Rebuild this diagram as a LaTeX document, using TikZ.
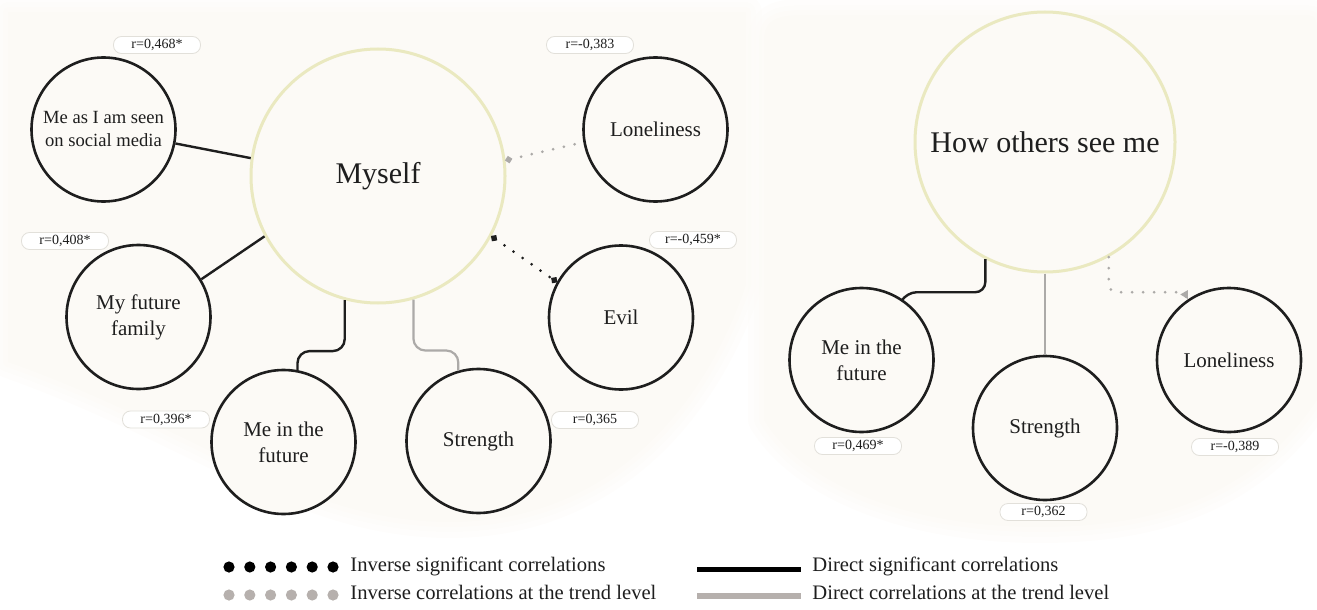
\documentclass[tikz,border=0pt]{standalone}
\usepackage{fontspec}
\setmainfont{Liberation Serif}
\usetikzlibrary{arrows.meta,calc}

\definecolor{cream}{RGB}{252,250,246}
\definecolor{paleyellow}{RGB}{234,233,192}
\definecolor{ink}{RGB}{30,30,30}
\definecolor{trendgray}{RGB}{172,170,168}
\definecolor{keygray}{RGB}{182,176,173}
\definecolor{tagline}{RGB}{226,224,218}

% soft background patches behind the two clusters
\newcommand\leftpatchpath{(8,12) -- (746,12) -- (746,285)
  .. controls (700,420) and (600,522) .. (450,522)
  .. controls (300,522) and (200,430) .. (8,362) -- cycle}
\newcommand\rightpatchpath{(764,40) .. controls (764,18) and (780,15) .. (805,15)
  -- (1300,15) .. controls (1317,15) .. (1317,40) -- (1317,400)
  .. controls (1250,500) and (1150,527) .. (1040,527)
  .. controls (900,527) and (800,480) .. (764,420) -- cycle}

\begin{document}
\begin{tikzpicture}[x=0.5pt,y=-0.5pt,
  hub/.style={circle,draw=paleyellow,line width=1.5pt,fill=cream,inner sep=0pt,
    minimum size=127pt,text=ink,font=\fontsize{15}{18}\selectfont},
  topic/.style={circle,draw=ink,line width=1.3pt,fill=cream,inner sep=0pt,
    minimum size=72pt,align=center,text=ink,font=\fontsize{10.5}{13}\selectfont},
  tag/.style={draw=tagline,fill=white,rounded corners=4pt,minimum width=43.5pt,
    minimum height=8.5pt,inner sep=0pt,text=ink,font=\fontsize{7}{8}\selectfont},
  directsig/.style={draw=ink,line width=1.2pt},
  directtrend/.style={draw=trendgray,line width=1.1pt},
  inversesig/.style={draw=ink,line width=1.5pt,line cap=round,dash pattern=on 0pt off 5.5pt},
  inversetrend/.style={draw=trendgray,line width=1.5pt,line cap=round,dash pattern=on 0pt off 5.5pt},
  keytext/.style={anchor=mid west,inner sep=0pt,text=ink,font=\fontsize{10.3}{12}\selectfont}
]
\useasboundingbox (0,0) rectangle (1317,610);

% background patches with soft edges
\foreach \w/\o in {16/0.3,10/0.4,5/0.5}{
  \draw[draw=cream,line width=\w pt,opacity=\o,line join=round] \leftpatchpath;
  \draw[draw=cream,line width=\w pt,opacity=\o,line join=round] \rightpatchpath;
}
\fill[cream] \leftpatchpath;
\fill[cream] \rightpatchpath;

% ---------- left cluster: Myself ----------
\node[hub] (myself) at (378,176) {Myself};
\node[topic,font=\fontsize{9.3}{11.5}\selectfont] (social) at (103.5,129.5) {Me as I am seen\\on social media};
\node[topic] (mff) at (138.5,317) {My future\\family};
\node[topic] (mifl) at (283.5,442) {Me in the\\future};
\node[topic] (strl) at (478.5,441) {Strength};
\node[topic] (evil) at (621,317.5) {Evil};
\node[topic] (lonl) at (655.5,129.5) {Loneliness};

\draw[directsig] (social.-11.5) -- (myself.172.8);
\draw[directsig] (mff.31) -- (myself.208.7);
\draw[directsig,rounded corners=6pt] (myself.-105) -- ++(0,51) -| (mifl.79);
\draw[directtrend,rounded corners=6pt] (myself.-74) -- ++(0,51) -| (strl.106);
\draw[inversesig,{Circle[length=3.2pt]}-{Circle[length=3.2pt]}] (myself.-28.5) -- (evil.151);
\draw[inversetrend,{Circle[length=3.2pt]}-] (myself.7) -- (lonl.190.7);

\node[tag] (t1) at (157,45) {r=0,468*};
\node[tag] (t2) at (65,241) {r=0,408*};
\node[tag] (t3) at (166,419.5) {r=0,396*};
\node[tag] (t4) at (595,420) {r=0,365};
\node[tag] (t5) at (590,45) {r=-0,383};
\node[tag] (t6) at (693,240) {r=-0,459*};

% ---------- right cluster: How others see me ----------
\node[hub,minimum size=130pt] (howo) at (1045,142) {How others see me};
\node[topic] (mifr) at (861.5,360) {Me in the\\future};
\node[topic] (strr) at (1045,428) {Strength};
\node[topic] (lonr) at (1229,360) {Loneliness};

\draw[directsig,rounded corners=5pt] (howo.-117) |- ($(mifr.56)+(4,-7)$) -- (mifr.56);
\draw[directtrend] (howo.south) -- (strr.north);
\draw[inversetrend,rounded corners=4pt,-{Triangle[length=4pt,width=4pt]}]
  (howo.-61.5) |- ($(lonr.124)+(-4,-7)$) -- (lonr.124);

\node[tag] (t7) at (858,446) {r=0,469*};
\node[tag] (t8) at (1043.5,512) {r=0,362};
\node[tag] (t9) at (1235,447) {r=-0,389};

% ---------- key ----------
\coordinate (k1a) at (229,567); \coordinate (k1b) at (334,567);
\coordinate (k2a) at (229,595); \coordinate (k2b) at (334,595);
\coordinate (k3a) at (697,569); \coordinate (k3b) at (801,569);
\coordinate (k4a) at (697,596); \coordinate (k4b) at (801,596);
\draw[draw=black,line width=5.6pt,line cap=round,dash pattern=on 0pt off 10.4pt] (k1a) -- (k1b);
\draw[draw=keygray,line width=5.6pt,line cap=round,dash pattern=on 0pt off 10.4pt] (k2a) -- (k2b);
\draw[draw=black,line width=2.5pt] (k3a) -- (k3b);
\draw[draw=keygray,line width=3pt] (k4a) -- (k4b);
\node[keytext] (k1) at (350,567) {Inverse significant correlations};
\node[keytext] (k2) at (350,595) {Inverse correlations at the trend level};
\node[keytext] (k3) at (812,567) {Direct significant correlations};
\node[keytext] (k4) at (812,595) {Direct correlations at the trend level};
\end{tikzpicture}
\end{document}
